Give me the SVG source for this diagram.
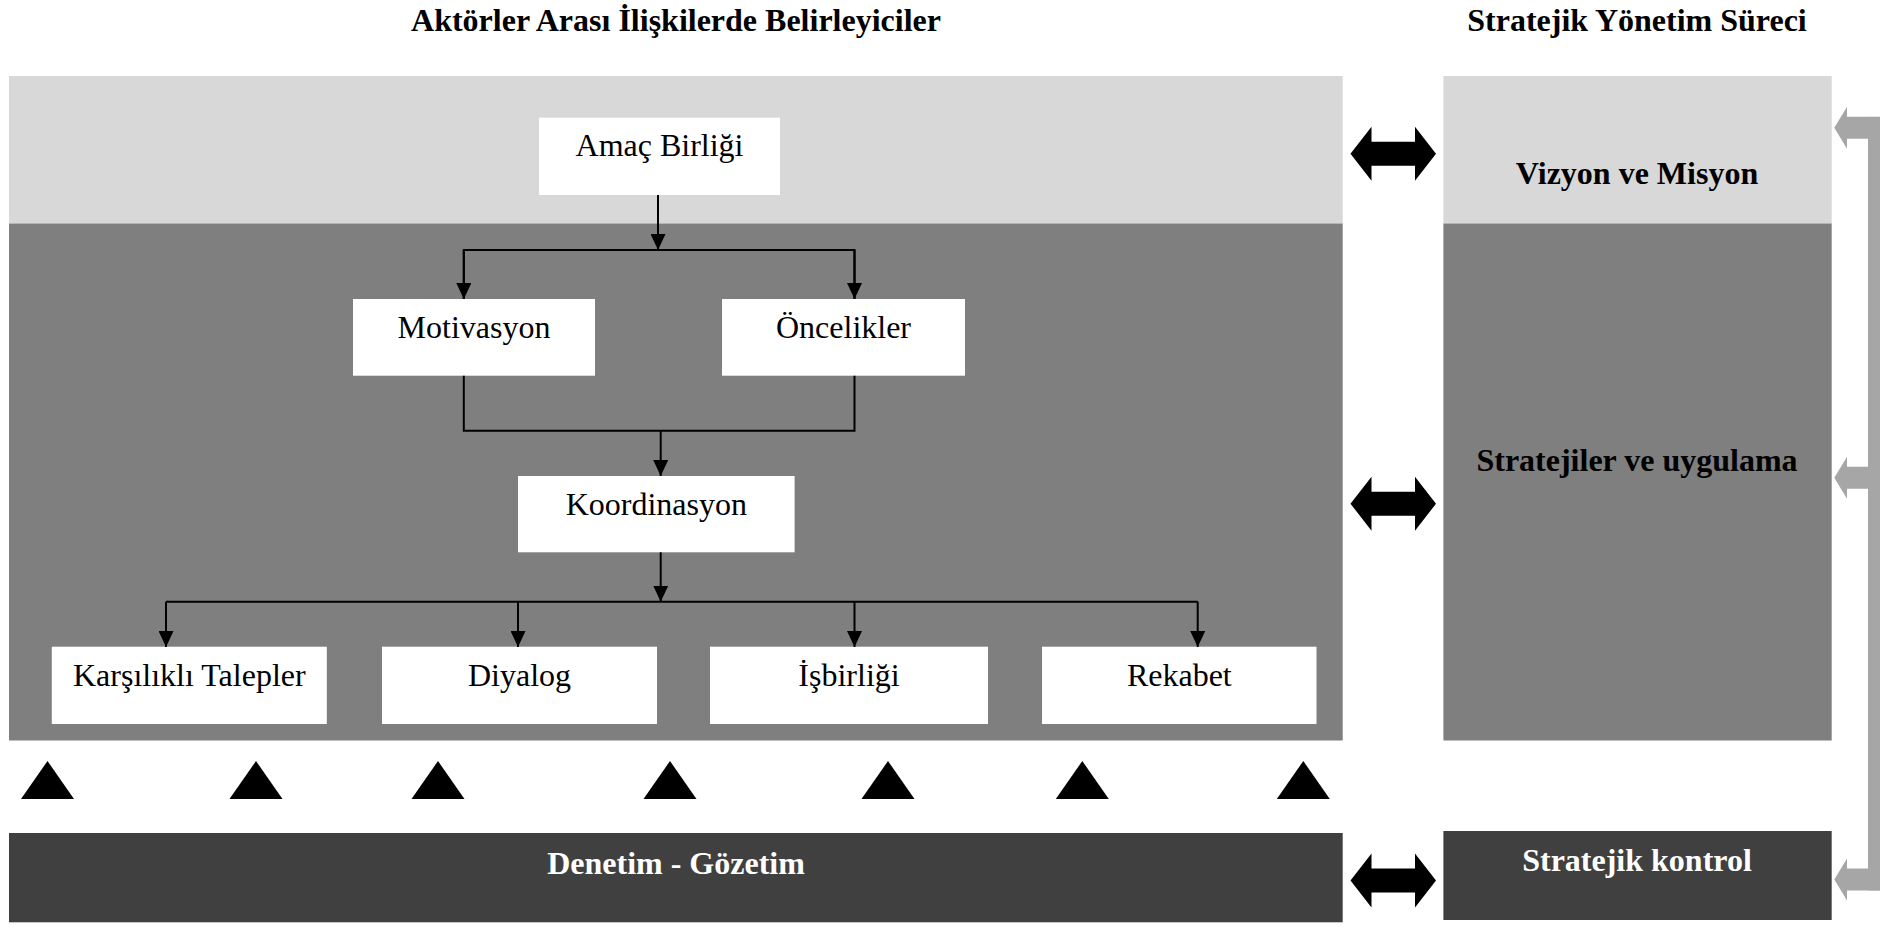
<svg xmlns="http://www.w3.org/2000/svg" width="1894" height="926" viewBox="0 0 1894 926">
  <style>
    text { font-family: "Liberation Serif", "Times New Roman", serif; font-size: 32px; text-anchor: middle; }
    .bold { font-weight: bold; }
    .white { fill: #ffffff; }
    .light { fill: #d8d8d8; }
    .mid { fill: #7f7f7f; }
    .dark { fill: #404040; }
    .box { fill: #ffffff; }
    .conn { stroke: #000000; stroke-width: 2; fill: none; }
    .gray { fill: #a6a6a6; }
  </style>
  <defs>
    <marker id="head" markerUnits="userSpaceOnUse" markerWidth="16" markerHeight="15" refX="16" refY="7.5" orient="auto">
      <path d="M0,0 L16,7.5 L0,15 Z" fill="#000000"/>
    </marker>
    <!-- two-headed block arrow, centred on y = 0 -->
    <path id="dbl" d="M1350.5,0 L1371.5,-27 L1371.5,-12 L1415,-12 L1415,-27 L1436,0 L1415,27 L1415,12 L1371.5,12 L1371.5,27 Z" fill="#000000"/>
    <!-- left-pointing feedback arrow, centred on y = 0 -->
    <path id="fb" d="M1868,-11 L1847,-11 L1847,-21 L1834.3,0 L1847,21 L1847,11 L1868,11 Z"/>
    <path id="tri" d="M-26.5,19 L0,-19 L26.5,19 Z" fill="#000000"/>
  </defs>

  <!-- column headings -->
  <text class="bold" x="676" y="31">Aktörler Arası İlişkilerde Belirleyiciler</text>
  <text class="bold" x="1637" y="31">Stratejik Yönetim Süreci</text>

  <!-- left panel background -->
  <g id="panel-left">
    <rect class="light" x="9" y="76" width="1333.7" height="147.5"/>
    <rect class="mid" x="9" y="223.5" width="1333.7" height="517"/>
  </g>

  <!-- right panel: strategic management stages -->
  <g id="vizyon">
    <rect class="light" x="1443.4" y="76" width="388.3" height="147.5"/>
    <text class="bold" x="1637" y="184">Vizyon ve Misyon</text>
  </g>
  <g id="stratejiler">
    <rect class="mid" x="1443.4" y="223.5" width="388.3" height="517"/>
    <text class="bold" x="1637" y="471">Stratejiler ve uygulama</text>
  </g>
  <g id="kontrol">
    <rect class="dark" x="1443.4" y="831" width="388.3" height="89"/>
    <text class="bold white" x="1637" y="871">Stratejik kontrol</text>
  </g>
  <g id="denetim">
    <rect class="dark" x="9" y="833" width="1333.7" height="89.3"/>
    <text class="bold white" x="676" y="874">Denetim - Gözetim</text>
  </g>

  <!-- determinant nodes -->
  <g id="amac">
    <rect class="box" x="539" y="117.7" width="241" height="77.3"/>
    <text x="659.5" y="156">Amaç Birliği</text>
  </g>
  <g id="motivasyon">
    <rect class="box" x="353" y="299" width="242" height="76.7"/>
    <text x="474" y="337.5">Motivasyon</text>
  </g>
  <g id="oncelikler">
    <rect class="box" x="722" y="299" width="243" height="76.7"/>
    <text x="843.5" y="337.5">Öncelikler</text>
  </g>
  <g id="koordinasyon">
    <rect class="box" x="518" y="476" width="276.6" height="76.3"/>
    <text x="656.3" y="515">Koordinasyon</text>
  </g>
  <g id="talepler">
    <rect class="box" x="51.8" y="646.7" width="275" height="77.3"/>
    <text x="189.3" y="686">Karşılıklı Talepler</text>
  </g>
  <g id="diyalog">
    <rect class="box" x="382" y="646.7" width="275" height="77.3"/>
    <text x="519.5" y="686">Diyalog</text>
  </g>
  <g id="isbirligi">
    <rect class="box" x="710" y="646.7" width="278" height="77.3"/>
    <text x="849" y="686">İşbirliği</text>
  </g>
  <g id="rekabet">
    <rect class="box" x="1042" y="646.7" width="274.5" height="77.3"/>
    <text x="1179.3" y="686">Rekabet</text>
  </g>

  <!-- flow connectors -->
  <g id="connectors">
    <path class="conn" d="M658,195 L658,250" marker-end="url(#head)"/>
    <path class="conn" d="M463.8,299 L463.8,250 L854.5,250 L854.5,299" />
    <path class="conn" d="M463.8,250 L463.8,299" marker-end="url(#head)"/>
    <path class="conn" d="M854.5,250 L854.5,299" marker-end="url(#head)"/>
    <path class="conn" d="M463.8,375.7 L463.8,430.7 L854.5,430.7 L854.5,375.7"/>
    <path class="conn" d="M660.7,430.7 L660.7,476" marker-end="url(#head)"/>
    <path class="conn" d="M660.7,552.3 L660.7,601.7" marker-end="url(#head)"/>
    <path class="conn" d="M166,601.7 L1197.7,601.7"/>
    <path class="conn" d="M166,601.7 L166,647" marker-end="url(#head)"/>
    <path class="conn" d="M518,601.7 L518,647" marker-end="url(#head)"/>
    <path class="conn" d="M854.5,601.7 L854.5,647" marker-end="url(#head)"/>
    <path class="conn" d="M1197.7,601.7 L1197.7,647" marker-end="url(#head)"/>

    <!-- two-way links between the panels -->
    <use href="#dbl" transform="translate(0,153.7)"/>
    <use href="#dbl" transform="translate(0,503.7)"/>
    <use href="#dbl" transform="translate(0,880.5)"/>

    <!-- feedback loop on the right -->
    <g class="gray">
      <rect x="1868" y="116.7" width="12" height="774"/>
      <use href="#fb" transform="translate(0,127.8)"/>
      <use href="#fb" transform="translate(0,477.8)"/>
      <use href="#fb" transform="translate(0,879.6)"/>
    </g>

    <!-- supervision markers -->
    <use href="#tri" transform="translate(47.5,780)"/>
    <use href="#tri" transform="translate(256,780)"/>
    <use href="#tri" transform="translate(438,780)"/>
    <use href="#tri" transform="translate(670,780)"/>
    <use href="#tri" transform="translate(888,780)"/>
    <use href="#tri" transform="translate(1082.3,780)"/>
    <use href="#tri" transform="translate(1303.3,780)"/>
  </g>
</svg>
